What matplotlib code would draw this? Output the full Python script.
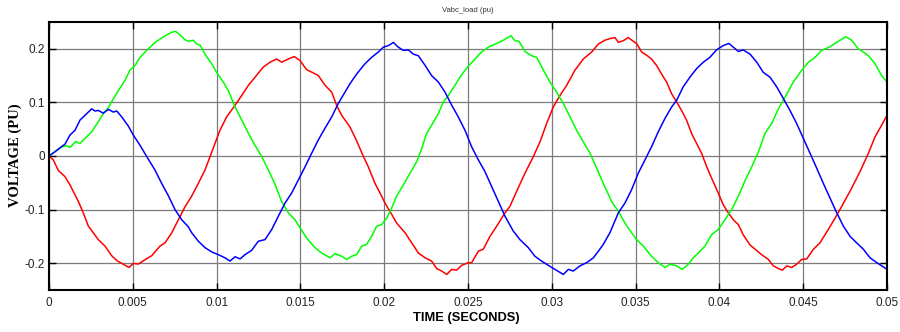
import numpy as np
import matplotlib
matplotlib.use("Agg")
import matplotlib.pyplot as plt

# ---- data (time in ms, voltage in pu) ----
t_red_ms = [0, 0.26, 0.56, 0.95, 1.25, 1.75, 2.05, 2.35, 2.65, 2.94, 3.34, 3.74, 4.04, 4.44, 4.77,
            5.03, 5.33, 5.73, 6.13, 6.62, 6.92, 7.32, 7.72, 8.11, 8.51, 8.91, 9.31, 9.61, 9.905,
            10.2, 10.6, 11.1, 11.5, 11.9, 12.29, 12.79, 13.19, 13.58, 13.88, 14.28, 14.64, 14.98,
            15.37, 15.77, 16.07, 16.47, 16.87, 17.16, 17.46, 17.96, 18.36, 18.76, 19.05, 19.45,
            19.75, 20.05, 20.45, 20.74, 21.24, 21.64, 22.04, 22.44, 22.83, 23.13, 23.43, 23.73,
            24.03, 24.32, 24.62, 25.02, 25.22, 25.62, 25.91, 26.31, 26.71, 27.21, 27.5, 27.9,
            28.4, 28.9, 29.3, 29.69, 30.09, 30.49, 30.89, 31.38, 31.88, 32.38, 32.78, 33.17,
            33.47, 33.77, 33.97, 34.26, 34.56, 34.86, 35.06, 35.36, 35.66, 35.95, 36.25, 36.55,
            36.85, 37.15, 37.45, 37.74, 38.04, 38.34, 38.64, 38.94, 39.24, 39.53, 39.93, 40.23,
            40.53, 40.83, 41.13, 41.42, 41.83, 42.13, 42.52, 42.92, 43.22, 43.52, 43.76, 44.02,
            44.31, 44.61, 44.91, 45.21, 45.61, 46.0, 46.5, 46.9, 47.3, 47.89, 48.39, 48.89,
            49.29, 49.68, 50.0]
v_red = [0, -0.0074, -0.0272, -0.0383, -0.0538, -0.0847, -0.1064, -0.131, -0.1435, -0.156, -0.168,
         -0.186, -0.195, -0.202, -0.208, -0.2004, -0.2016, -0.1935, -0.186, -0.1682, -0.162,
         -0.1435, -0.1188, -0.095, -0.075, -0.051, -0.026, -0.001, 0.0235, 0.048, 0.073, 0.0946,
         0.113, 0.132, 0.147, 0.166, 0.175, 0.181, 0.175, 0.181, 0.1855, 0.178, 0.161, 0.155,
         0.150, 0.132, 0.119, 0.0946, 0.076, 0.054, 0.028, -0.001, -0.020, -0.051, -0.069,
         -0.088, -0.109, -0.125, -0.143, -0.162, -0.181, -0.190, -0.196, -0.210, -0.2146,
         -0.221, -0.2115, -0.213, -0.204, -0.199, -0.199, -0.1775, -0.174, -0.150, -0.131,
         -0.106, -0.094, -0.066, -0.032, -0.001, 0.0266, 0.0606, 0.0915, 0.113, 0.132, 0.160,
         0.181, 0.194, 0.209, 0.216, 0.219, 0.221, 0.212, 0.215, 0.221, 0.214, 0.210, 0.194,
         0.188, 0.181, 0.169, 0.153, 0.138, 0.116, 0.101, 0.085, 0.067, 0.042, 0.0235, 0.005,
         -0.020, -0.041, -0.069, -0.091, -0.106, -0.119, -0.128, -0.147, -0.166, -0.174,
         -0.184, -0.193, -0.205, -0.210, -0.213, -0.205, -0.208, -0.202, -0.193, -0.192,
         -0.174, -0.162, -0.137, -0.116, -0.094, -0.060, -0.029, 0.005, 0.036, 0.0575, 0.076]

t_green_ms = [0, 0.36, 0.76, 1.05, 1.25, 1.59, 1.85, 2.15, 2.55, 2.94, 3.24, 3.54, 3.84, 4.14, 4.53,
              4.83, 5.13, 5.43, 5.73, 6.03, 6.32, 6.62, 7.02, 7.32, 7.56, 7.82, 8.11, 8.31, 8.61,
              8.81, 9.01, 9.31, 9.71, 10.0, 10.4, 10.7, 11.1, 11.5, 11.9, 12.29, 12.69, 13.09,
              13.5, 13.88, 14.28, 14.68, 14.98, 15.37, 15.87, 16.27, 16.77, 17.06, 17.46, 17.76,
              18.06, 18.36, 18.66, 18.95, 19.25, 19.55, 19.85, 20.15, 20.45, 20.74, 21.14, 21.54,
              21.94, 22.24, 22.53, 22.83, 23.23, 23.53, 23.83, 24.22, 24.52, 24.82, 25.12, 25.42,
              25.81, 26.21, 26.71, 27.11, 27.56, 27.8, 28.04, 28.4, 28.8, 29.1, 29.5, 29.89,
              30.29, 30.69, 31.09, 31.48, 31.88, 32.28, 32.68, 33.07, 33.57, 33.97, 34.36, 34.76,
              35.06, 35.46, 35.95, 36.35, 36.75, 37.05, 37.45, 37.78, 38.14, 38.44, 38.74, 39.14,
              39.53, 39.93, 40.33, 40.73, 41.13, 41.53, 41.93, 42.33, 42.72, 43.12, 43.52, 43.92,
              44.41, 44.91, 45.31, 45.71, 46.1, 46.6, 47.1, 47.54, 47.89, 48.29, 48.59, 48.89,
              49.29, 49.68, 50.0]
v_green = [0, 0.008, 0.017, 0.019, 0.016, 0.027, 0.0235, 0.033, 0.045, 0.064, 0.079, 0.090, 0.107,
           0.122, 0.141, 0.160, 0.169, 0.184, 0.194, 0.203, 0.212, 0.218, 0.226, 0.231, 0.2325,
           0.226, 0.217, 0.214, 0.216, 0.209, 0.207, 0.190, 0.172, 0.156, 0.138, 0.122, 0.0915,
           0.067, 0.042, 0.020, -0.001, -0.026, -0.054, -0.085, -0.106, -0.119, -0.134, -0.153,
           -0.171, -0.181, -0.190, -0.182, -0.187, -0.193, -0.187, -0.184, -0.168, -0.165,
           -0.150, -0.131, -0.128, -0.116, -0.097, -0.075, -0.054, -0.032, -0.0105, 0.014,
           0.042, 0.0575, 0.079, 0.101, 0.113, 0.132, 0.147, 0.160, 0.171, 0.181, 0.194, 0.203,
           0.210, 0.216, 0.2245, 0.215, 0.214, 0.195, 0.187, 0.184, 0.160, 0.138, 0.119, 0.098,
           0.073, 0.048, 0.0266, 0.005, -0.023, -0.051, -0.085, -0.103, -0.125, -0.143, -0.156,
           -0.168, -0.187, -0.199, -0.208, -0.202, -0.205, -0.2115, -0.202, -0.190, -0.181,
           -0.168, -0.147, -0.137, -0.119, -0.100, -0.075, -0.046, -0.020, 0.008, 0.042, 0.0606,
           0.088, 0.110, 0.138, 0.160, 0.175, 0.184, 0.197, 0.204, 0.214, 0.2225, 0.216, 0.200,
           0.194, 0.187, 0.172, 0.150, 0.138]

t_blue_ms = [0, 0.36, 0.66, 0.95, 1.25, 1.55, 1.85, 2.15, 2.55, 2.74, 2.94, 3.24, 3.54, 3.84, 4.04,
             4.34, 4.73, 5.03, 5.43, 5.83, 6.32, 6.72, 7.12, 7.52, 7.92, 8.31, 8.51, 8.91, 9.31,
             9.71, 10.1, 10.5, 10.8, 11.1, 11.4, 11.7, 12.09, 12.49, 12.89, 13.29, 13.68, 14.08,
             14.48, 14.88, 15.28, 15.67, 16.07, 16.47, 16.87, 17.26, 17.66, 17.96, 18.36, 18.85,
             19.25, 19.65, 19.95, 20.25, 20.55, 20.8, 21.14, 21.44, 21.74, 22.04, 22.44, 22.83,
             23.23, 23.63, 24.03, 24.42, 24.82, 25.22, 25.62, 26.01, 26.41, 26.81, 27.21, 27.7,
             28.1, 28.6, 28.99, 29.39, 29.79, 30.19, 30.69, 30.99, 31.28, 31.68, 32.08, 32.48,
             32.78, 33.07, 33.47, 33.97, 34.36, 34.76, 35.16, 35.56, 35.95, 36.35, 36.75, 37.15,
             37.45, 37.84, 38.24, 38.64, 39.04, 39.43, 39.83, 40.23, 40.57, 40.83, 41.13, 41.42,
             41.83, 42.23, 42.62, 43.02, 43.42, 43.82, 44.21, 44.61, 45.01, 45.41, 45.81, 46.2,
             46.6, 47.0, 47.4, 47.8, 48.19, 48.59, 48.99, 49.39, 49.69, 50.0]
v_blue = [0, 0.008, 0.0155, 0.022, 0.039, 0.048, 0.067, 0.076, 0.088, 0.084, 0.085, 0.080, 0.087,
          0.082, 0.084, 0.073, 0.056, 0.039, 0.020, -0.001, -0.026, -0.051, -0.074, -0.100,
          -0.119, -0.132, -0.143, -0.159, -0.171, -0.179, -0.184, -0.190, -0.196, -0.188,
          -0.192, -0.184, -0.176, -0.159, -0.156, -0.137, -0.1125, -0.088, -0.069, -0.0445,
          -0.020, 0.005, 0.030, 0.052, 0.073, 0.098, 0.119, 0.135, 0.153, 0.172, 0.184, 0.194,
          0.203, 0.206, 0.212, 0.204, 0.197, 0.198, 0.190, 0.187, 0.169, 0.150, 0.138, 0.119,
          0.0946, 0.073, 0.048, 0.017, -0.0074, -0.029, -0.057, -0.085, -0.1125, -0.140, -0.156,
          -0.171, -0.187, -0.196, -0.204, -0.2115, -0.221, -0.2115, -0.2146, -0.205, -0.199,
          -0.190, -0.1775, -0.165, -0.143, -0.106, -0.088, -0.063, -0.032, -0.0074, 0.017,
          0.045, 0.070, 0.0915, 0.104, 0.129, 0.147, 0.163, 0.175, 0.184, 0.198, 0.206, 0.210,
          0.203, 0.195, 0.198, 0.190, 0.175, 0.156, 0.147, 0.129, 0.107, 0.085, 0.0606, 0.033,
          0.005, -0.023, -0.051, -0.0785, -0.106, -0.131, -0.150, -0.162, -0.174, -0.190,
          -0.199, -0.205, -0.2115]

x_ticks = [0, 0.005, 0.01, 0.015, 0.02, 0.025, 0.03, 0.035, 0.04, 0.045, 0.05]
x_tick_labels = ["0", "0.005", "0.01", "0.015", "0.02", "0.025", "0.03", "0.035", "0.04", "0.045", "0.05"]
y_ticks = [-0.2, -0.1, 0, 0.1, 0.2]
y_tick_labels = ["-0.2", "-0.1", "0", "0.1", "0.2"]

title_text = "Vabc_load (pu)"
x_label = "TIME (SECONDS)"
y_label = "VOLTAGE (PU)"

# ---- figure ----
fig = plt.figure(figsize=(9.0, 3.32), dpi=100)
ax = fig.add_axes([49 / 900, 42 / 332, (887 - 49) / 900, (290 - 22) / 332])

ms = 1e-3
ax.plot(np.array(t_red_ms) * ms, v_red, color="#ff0000", lw=1.1)
ax.plot(np.array(t_green_ms) * ms, v_green, color="#00ff00", lw=1.1)
ax.plot(np.array(t_blue_ms) * ms, v_blue, color="#0000ff", lw=1.1)

ax.set_xlim(0, 0.05)
ax.set_ylim(-0.25, 0.25)
ax.set_xticks(x_ticks)
ax.set_xticklabels(x_tick_labels)
ax.set_yticks(y_ticks)
ax.set_yticklabels(y_tick_labels)

ax.grid(True, color="#7a7a7a", lw=0.9, ls="-")
ax.set_axisbelow(True)

ax.tick_params(direction="in", top=True, right=True, length=5, width=1.0,
               labelsize=8.5, colors="black", labelcolor="#222222")
ax.tick_params(axis="y", pad=3)
ax.tick_params(axis="x", pad=5)
for lab in ax.get_xticklabels() + ax.get_yticklabels():
    lab.set_family("Liberation Sans")

for sp in ax.spines.values():
    sp.set_linewidth(1.5)
    sp.set_color("black")

fig.text(468 / 900, 1 - 10 / 332, title_text, ha="center", va="center",
         fontsize=5.5, family="Liberation Sans", color="#333333")
fig.text(466 / 900, 1 - 318 / 332, x_label, ha="center", va="center",
         fontsize=9.3, fontweight="bold", family="Liberation Sans")
fig.text(15 / 900, 1 - 155 / 332, y_label, ha="center", va="center", rotation=90,
         fontsize=10.5, fontweight="bold", family="Liberation Serif")

fig.savefig("out.png", dpi=100)
